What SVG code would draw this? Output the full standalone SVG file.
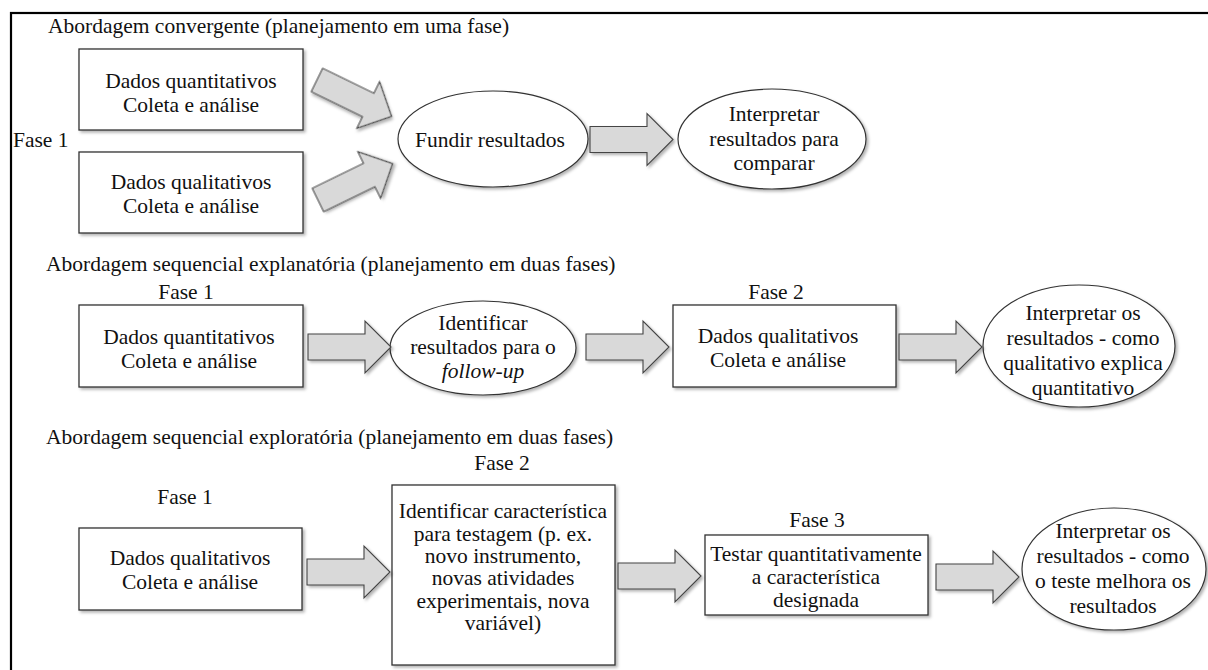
<svg xmlns="http://www.w3.org/2000/svg" xmlns:xlink="http://www.w3.org/1999/xlink" width="1208" height="670" viewBox="0 0 1208 670" font-family="'Liberation Serif', 'Times New Roman', Times, serif">
  <style>
    text { font-family: "Liberation Serif", "Times New Roman", Times, serif; font-size: 21.5px; fill: #111; }
    .c { text-anchor: middle; }
    .box { fill: #fff; stroke: #333; stroke-width: 1.3; }
    .ell { fill: #fff; stroke: #333; stroke-width: 1.2; }
    .arr { fill: #d9d9d9; stroke: #444; stroke-width: 1.1; stroke-linejoin: miter; }
  </style>
  <defs>
    <filter id="sh" x="-10%" y="-10%" width="125%" height="130%">
      <feDropShadow dx="2" dy="2" stdDeviation="1.5" flood-color="#000" flood-opacity="0.3"/>
    </filter>
    <path id="blk" d="M0,-13 H57 V-26 L83,0 L57,26 V13 H0 Z"/>
  </defs>
  <rect width="1208" height="670" fill="#fff"/>
  <rect x="11" y="13" width="1220" height="680" fill="none" stroke="#000" stroke-width="2.2"/>

  <!-- Section 1 -->
  <text id="title1" x="48" y="33">Abordagem convergente (planejamento em uma fase)</text>
  <text id="fase1a" x="13" y="147">Fase 1</text>
  <g id="a_quant">
    <rect class="box" x="79" y="49" width="224" height="81" filter="url(#sh)"/>
    <text class="c" x="191" y="88">Dados quantitativos</text>
    <text class="c" x="191" y="112">Coleta e análise</text>
  </g>
  <g id="a_qual">
    <rect class="box" x="79" y="152" width="224" height="81" filter="url(#sh)"/>
    <text class="c" x="191" y="189">Dados qualitativos</text>
    <text class="c" x="191" y="213">Coleta e análise</text>
  </g>
  <g id="a_fundir">
    <ellipse class="ell" cx="493" cy="139" rx="95" ry="48" filter="url(#sh)"/>
    <text class="c" x="490" y="147">Fundir resultados</text>
  </g>
  <g id="a_interp">
    <ellipse class="ell" cx="772" cy="139" rx="94" ry="50" filter="url(#sh)"/>
    <text class="c" x="774" y="121">Interpretar</text>
    <text class="c" x="774" y="145.5">resultados para</text>
    <text class="c" x="774" y="170">comparar</text>
  </g>

  <!-- Section 2 -->
  <text id="title2" x="46" y="271">Abordagem sequencial explanatória (planejamento em duas fases)</text>
  <text id="fase1b" class="c" x="186" y="299">Fase 1</text>
  <text id="fase2b" class="c" x="776" y="299">Fase 2</text>
  <g id="b_quant">
    <rect class="box" x="79" y="305" width="224" height="82" filter="url(#sh)"/>
    <text class="c" x="189" y="344">Dados quantitativos</text>
    <text class="c" x="189" y="368">Coleta e análise</text>
  </g>
  <g id="b_ident">
    <ellipse class="ell" cx="483" cy="348" rx="93" ry="47" filter="url(#sh)"/>
    <text class="c" x="483" y="330">Identificar</text>
    <text class="c" x="483" y="354">resultados para o</text>
    <text class="c" x="483" y="378" font-style="italic">follow-up</text>
  </g>
  <g id="b_qual">
    <rect class="box" x="673" y="305" width="223" height="82" filter="url(#sh)"/>
    <text class="c" x="778" y="343">Dados qualitativos</text>
    <text class="c" x="778" y="367">Coleta e análise</text>
  </g>
  <g id="b_interp">
    <ellipse class="ell" cx="1079" cy="346" rx="96" ry="61" filter="url(#sh)"/>
    <text class="c" x="1083" y="320">Interpretar os</text>
    <text class="c" x="1083" y="345">resultados - como</text>
    <text class="c" x="1083" y="370">qualitativo explica</text>
    <text class="c" x="1083" y="395">quantitativo</text>
  </g>

  <!-- Section 3 -->
  <text id="title3" x="46" y="444">Abordagem sequencial exploratória (planejamento em duas fases)</text>
  <text id="fase2c" class="c" x="502" y="470">Fase 2</text>
  <text id="fase1c" class="c" x="185" y="504">Fase 1</text>
  <text id="fase3c" class="c" x="817" y="527">Fase 3</text>
  <g id="c_qual">
    <rect class="box" x="79" y="528" width="223" height="82" filter="url(#sh)"/>
    <text class="c" x="190" y="565">Dados qualitativos</text>
    <text class="c" x="190" y="589">Coleta e análise</text>
  </g>
  <g id="c_ident">
    <rect class="box" x="392" y="485" width="223" height="180" filter="url(#sh)"/>
    <text class="c" x="503" y="518">Identificar característica</text>
    <text class="c" x="503" y="540.5">para testagem (p. ex.</text>
    <text class="c" x="503" y="563">novo instrumento,</text>
    <text class="c" x="503" y="585">novas atividades</text>
    <text class="c" x="503" y="607.5">experimentais, nova</text>
    <text class="c" x="503" y="630">variável)</text>
  </g>
  <g id="c_testar">
    <rect class="box" x="705" y="535" width="223" height="80" filter="url(#sh)"/>
    <text class="c" x="816" y="561">Testar quantitativamente</text>
    <text class="c" x="816" y="584">a característica</text>
    <text class="c" x="816" y="607">designada</text>
  </g>
  <g id="c_interp">
    <ellipse class="ell" cx="1114" cy="569" rx="92" ry="61" filter="url(#sh)"/>
    <text class="c" x="1113" y="538">Interpretar os</text>
    <text class="c" x="1113" y="563">resultados - como</text>
    <text class="c" x="1113" y="588">o teste melhora os</text>
    <text class="c" x="1113" y="613">resultados</text>
  </g>

  <!-- Connectors -->
  <g id="connectors">
    <use xlink:href="#blk" class="arr" filter="url(#sh)" transform="translate(317,80) rotate(26)"/>
    <use xlink:href="#blk" class="arr" filter="url(#sh)" transform="translate(318,200) rotate(-26)"/>
    <use xlink:href="#blk" class="arr" filter="url(#sh)" transform="translate(590,139.5)"/>
    <use xlink:href="#blk" class="arr" filter="url(#sh)" transform="translate(308,347)"/>
    <use xlink:href="#blk" class="arr" filter="url(#sh)" transform="translate(586,347)"/>
    <use xlink:href="#blk" class="arr" filter="url(#sh)" transform="translate(899,347)"/>
    <use xlink:href="#blk" class="arr" filter="url(#sh)" transform="translate(307,572)"/>
    <use xlink:href="#blk" class="arr" filter="url(#sh)" transform="translate(618,576)"/>
    <use xlink:href="#blk" class="arr" filter="url(#sh)" transform="translate(936,577)"/>
  </g>
</svg>
